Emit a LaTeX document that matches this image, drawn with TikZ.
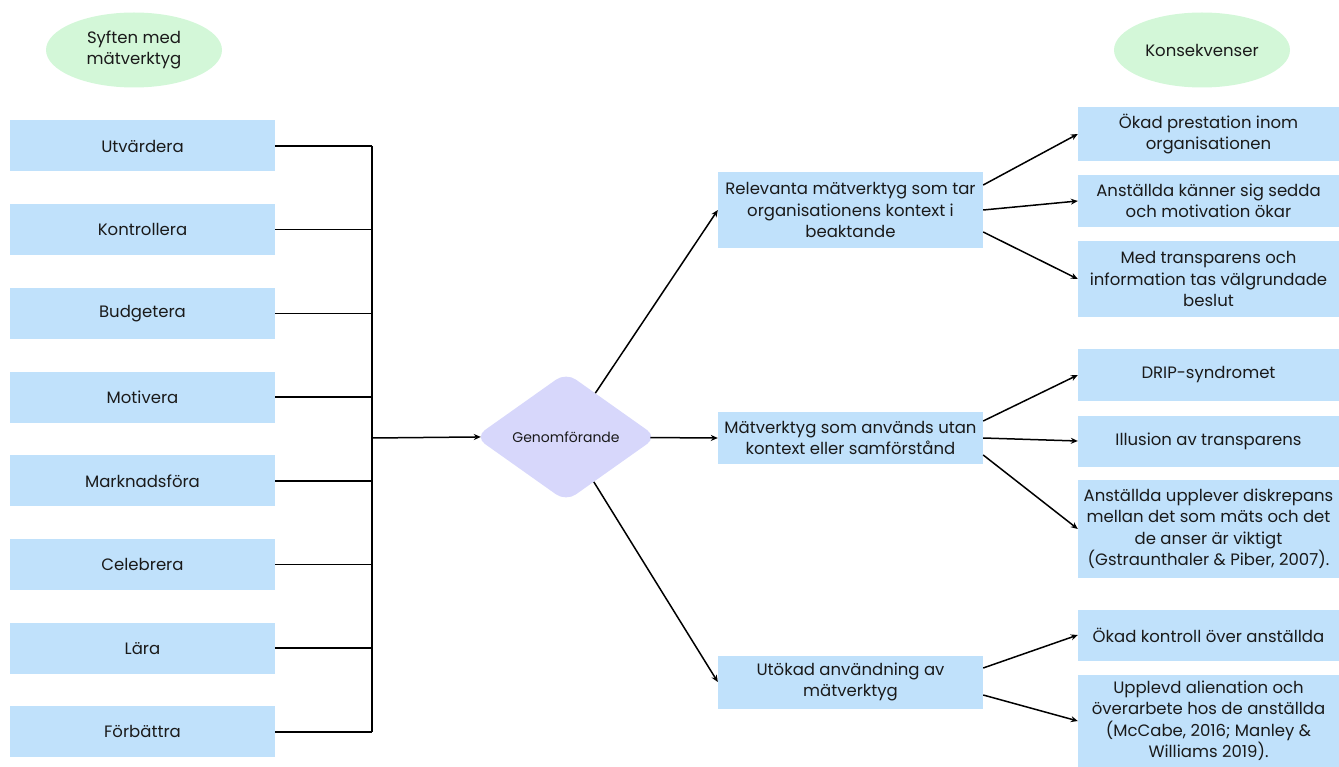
\documentclass[tikz,border=0pt]{standalone}
\usepackage{fontspec}
\setmainfont{Poppins}
\usetikzlibrary{shapes.geometric,arrows.meta}

\definecolor{boxblue}{HTML}{C0E1FB}
\definecolor{ovalgreen}{HTML}{D3F7D8}
\definecolor{lilac}{HTML}{D7D7FB}
\definecolor{ink}{HTML}{1A1A1A}

\begin{document}
\begin{tikzpicture}[x=1pt,y=-1pt,
    txt/.style={text=ink,align=center,inner sep=0pt,font=\fontsize{16.5}{21.5}\selectfont},
    box/.style={txt,fill=boxblue,minimum width=265pt,minimum height=51pt},
    rbox/.style={txt,fill=boxblue,minimum width=261pt,minimum height=51pt},
    oval/.style={txt,ellipse,fill=ovalgreen,minimum width=176pt,minimum height=75pt},
    wire/.style={line width=1.5pt},
    link/.style={wire,-{Stealth[length=7pt,width=6pt]}}]
    \useasboundingbox (0,0) rectangle (1339,767);
    % headings
    \node[oval] (purpose) at (134,50)  {Syften med\\mätverktyg};
    \node[oval] (result)  at (1202,50) {Konsekvenser};
    % purposes
    \foreach \what [count=\i] in {Utvärdera,Kontrollera,Budgetera,Motivera,
                                  Marknadsföra,Celebrera,Lära,Förbättra}
        \node[box] (p\i) at (142.5,{146+(\i-1)*83.7}) {\what};
    % bracket
    \coordinate (btop) at (372,146);
    \coordinate (bbot) at (372,732);
    \coordinate (bmid) at (372,438);
    \draw[wire] (btop) -- (bbot);
    \foreach \i in {1,...,8}
        \draw[wire] (p\i.east) -- (p\i.east -| btop);
    % decision
    \node[txt,diamond,fill=lilac,rounded corners=12pt,minimum width=182pt,
          minimum height=129pt,font=\fontsize{14}{17}\selectfont] (gen) at (566,437) {Genomförande};
    \draw[link,shorten >=-6pt] (bmid) -- (gen.west);
    % ways of use
    \node[box,minimum height=76pt] (m1) at (850.5,210) {Relevanta mätverktyg som tar\\organisationens kontext i\\beaktande};
    \node[box,minimum height=52pt] (m2) at (850.5,438) {Mätverktyg som används utan\\kontext eller samförstånd};
    \node[box,minimum height=53pt] (m3) at (850.5,682) {Utökad användning av\\mätverktyg};
    \draw[link] (gen) -- (m1.west);
    \draw[link,shorten <=-6pt] (gen) -- (m2.west);
    \draw[link] (gen) -- (m3.west);
    % consequences
    \node[rbox,minimum height=54pt] (r1) at (1208.5,134) {Ökad prestation inom\\organisationen};
    \node[rbox,minimum height=52pt] (r2) at (1208.5,201) {Anställda känner sig sedda\\och motivation ökar};
    \node[rbox,minimum height=76pt] (r3) at (1208.5,279) {Med transparens och\\information tas välgrundade\\beslut};
    \node[rbox] (r4) at (1208.5,375) {DRIP-syndromet};
    \node[rbox] (r5) at (1208.5,441) {Illusion av transparens};
    \node[rbox,minimum height=98pt] (r6) at (1208.5,529) {Anställda upplever diskrepans\\mellan det som mäts och det\\de anser är viktigt\\(Gstraunthaler \& Piber, 2007).};
    \node[rbox] (r7) at (1208.5,635) {Ökad kontroll över anställda};
    \node[rbox,minimum height=92pt] (r8) at (1208.5,721) {Upplevd alienation och\\överarbete hos de anställda\\(McCabe, 2016; Manley \&\\Williams 2019).};
    \draw[link] ([yshift=25pt]m1.east)  -- (r1.west);
    \draw[link] (m1.east)               -- (r2.west);
    \draw[link] ([yshift=-22pt]m1.east) -- (r3.west);
    \draw[link] ([yshift=17pt]m2.east)  -- (r4.west);
    \draw[link] (m2.east)               -- (r5.west);
    \draw[link] ([yshift=-17pt]m2.east) -- (r6.west);
    \draw[link] ([yshift=14pt]m3.east)  -- (r7.west);
    \draw[link] ([yshift=-13pt]m3.east) -- (r8.west);
\end{tikzpicture}
\end{document}
